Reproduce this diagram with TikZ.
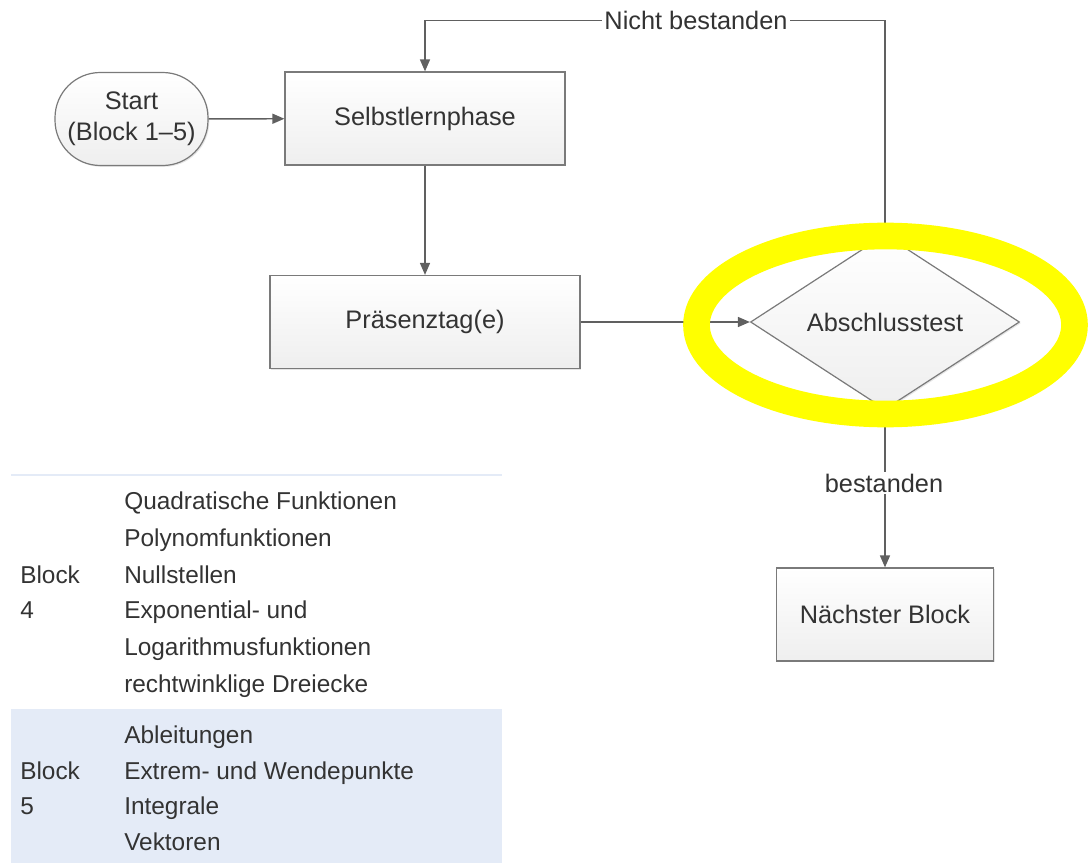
\documentclass[tikz,border=0pt]{standalone}
\usepackage{fontspec}
\setmainfont{Liberation Sans}
\usetikzlibrary{shapes.geometric,arrows.meta,shadows}
\definecolor{txt}{HTML}{333333}
\definecolor{edge}{HTML}{606060}
\definecolor{boxline}{HTML}{7A7A7A}
\definecolor{rowblue}{HTML}{E4EBF7}
\definecolor{hl}{HTML}{FFFF00}
\begin{document}
\begin{tikzpicture}[x=0.75pt,y=-0.75pt,
  every node/.style={text=txt},
  flowbox/.style={draw=boxline, line width=0.9pt, top color=white, bottom color=gray!13,
    minimum height=69.75pt, font=\fontsize{19}{23}\selectfont, align=center,
    drop shadow={shadow xshift=1pt, shadow yshift=-1pt, fill=gray!50, opacity=0.4}},
  conn/.style={draw=edge, line width=1.1pt, -{Triangle[length=9pt,width=7.5pt]}},
  lbl/.style={fill=white, inner sep=1.5pt, font=\fontsize{19}{23}\selectfont},
  tab/.style={anchor=base west, inner sep=0pt, font=\fontsize{18.3}{22}\selectfont}]
\useasboundingbox (0,0) rectangle (1090,863);

% table
\fill[rowblue] (11,709) rectangle (502,863);
\draw[rowblue, line width=1.2pt] (11,475) -- (502,475);
\node[tab] (b4a) at (20,583) {Block};
\node[tab] (b4b) at (20,618) {4};
\node[tab] (q1) at (124,509) {Quadratische Funktionen};
\node[tab] (q2) at (124,546) {Polynomfunktionen};
\node[tab] (q3) at (124,583) {Nullstellen};
\node[tab] (q4) at (124,618) {Exponential- und};
\node[tab] (q5) at (124,655) {Logarithmusfunktionen};
\node[tab] (q6) at (124,692) {rechtwinklige Dreiecke};
\node[tab] (b5a) at (20,779) {Block};
\node[tab] (b5b) at (20,814) {5};
\node[tab] (r1) at (124,743) {Ableitungen};
\node[tab] (r2) at (124,779) {Extrem- und Wendepunkte};
\node[tab] (r3) at (124,814) {Integrale};
\node[tab] (r4) at (124,850) {Vektoren};

% flow
\node[flowbox, rounded corners=34pt, minimum width=114.75pt] (start) at (131.5,119) {Start\\(Block 1–5)};
\node[flowbox, minimum width=210pt] (sel) at (425,118.5) {Selbstlernphase};
\node[flowbox, minimum width=232.5pt] (pres) at (425,322) {Präsenztag(e)};
\node[flowbox, diamond, minimum width=201.75pt, minimum height=112.5pt, inner sep=0pt] (abs) at (885,322) {Abschlusstest};
\node[flowbox, minimum width=162.75pt] (next) at (885,614.5) {Nächster Block};

\coordinate (tr) at (885,20.5);
\coordinate (tl) at (425,20.5);

\draw[conn] (start) -- (sel);
\draw[conn] (sel) -- (pres);
\draw[conn] (pres) -- (abs);
\draw[conn] (abs.north) -- (tr) -- (tl) -- (sel.north);
\draw[conn] (abs.south) -- (next.north);
\node[lbl] (nb) at (696,20.5) {Nicht bestanden};
\node[lbl] (bs) at (884,483) {bestanden};

% highlight
\draw[hl, line width=20pt] (885.5,325) ellipse [x radius=189, y radius=89];
\end{tikzpicture}
\end{document}
